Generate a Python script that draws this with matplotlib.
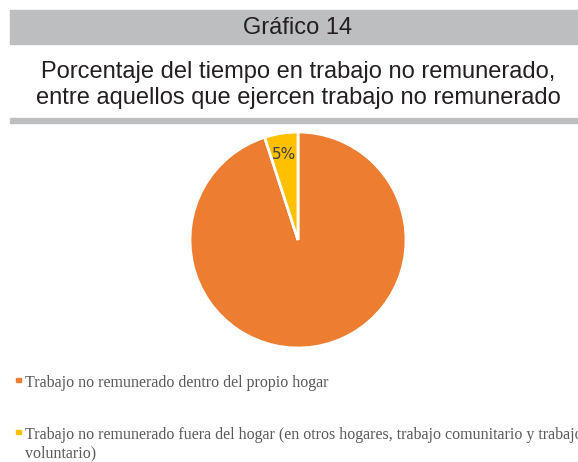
import matplotlib
matplotlib.use("Agg")
import matplotlib.pyplot as plt
from matplotlib.patches import Rectangle

## DATOS ##
categorias = ['Trabajo no remunerado dentro del propio hogar',
              'Trabajo no remunerado fuera del hogar (en otros hogares, trabajo comunitario y trabajo\nvoluntario)']
valores = [95, 5]
colores = ['#ED7D31', '#FFC000']
etiquetas = ['', '5%']

W, H = 578, 462
fig = plt.figure(figsize=(W / 100, H / 100), dpi=100)

def fx(px):
    return px / W

def fy(py):
    return 1 - py / H

## ENCABEZADO ##
fig.patches.append(Rectangle((fx(10), fy(44)), fx(W - 10), 34 / H,
                             transform=fig.transFigure, color='#BDBEC0', zorder=0))
fig.patches.append(Rectangle((fx(10), fy(123)), fx(W - 10), 5 / H,
                             transform=fig.transFigure, color='#BDBEC0', zorder=0))
fig.text(fx(298), fy(28), 'Gráfico 14', ha='center', va='center',
         fontsize=17, family='Liberation Sans', color='#231F20')
fig.text(fx(298), fy(85), 'Porcentaje del tiempo en trabajo no remunerado,\nentre aquellos que ejercen trabajo no remunerado',
         ha='center', va='center', fontsize=17, family='Liberation Sans',
         color='#231F20', linespacing=1.25)

## TORTA ##
ax = fig.add_axes([fx(190), fy(348), 216 / W, 216 / H])
wedges, textos = ax.pie(valores, colors=colores, startangle=90, counterclock=False,
                        labels=etiquetas, labeldistance=0.8,
                        wedgeprops=dict(edgecolor='white', linewidth=2))
for t in textos:
    t.set_ha('center')
    t.set_va('center')
    t.set_fontsize(11)
    t.set_color('#404040')
ax.set_xlim(-1, 1)
ax.set_ylim(-1, 1)
ax.set_aspect('equal')
ax.axis('off')

## LEYENDA ##
posiciones = [387, 439]
for cat, col, py in zip(categorias, colores, posiciones):
    fig.patches.append(Rectangle((fx(16), fy(py - 5)), 4.5 / W, 4.5 / H,
                                 transform=fig.transFigure, color=col))
    for i, linea in enumerate(cat.split('\n')):
        fig.text(fx(25), fy(py + 18 * i), linea, ha='left', va='baseline',
                 fontsize=11.5, family='Liberation Serif', color='#595959')

fig.savefig('out.png', dpi=100)
